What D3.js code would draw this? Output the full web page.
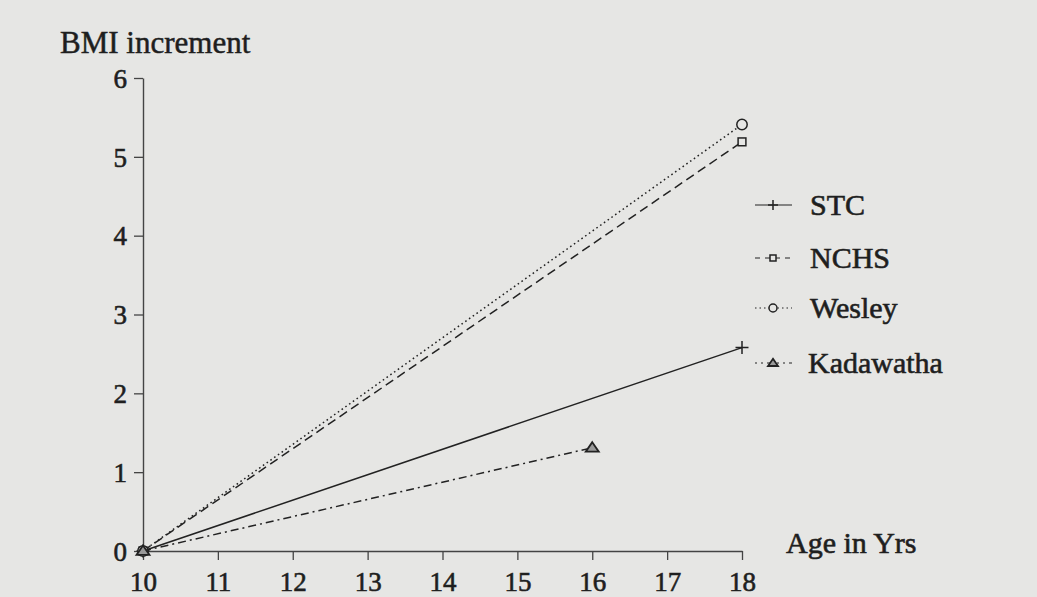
<!DOCTYPE html>
<html>
<head>
<meta charset="utf-8">
<script src="https://cdn.jsdelivr.net/npm/d3@7/dist/d3.min.js"></script>
<style>
  html, body { margin: 0; padding: 0; background: #e6e6e4; }
  svg { display: block; }
  text { font-family: "Liberation Serif", "Times New Roman", serif; fill: #1e1e1e; }
</style>
</head>
<body>
<svg id="chart" width="1037" height="597"></svg>
<script>
// Ages and BMI increments (relative to age 10)
const ages = [10, 18];
const stcValues = [0, 2.58];
const nchsValues = [0, 5.19];
const wesleyValues = [0, 5.41];
const kadawathaAges = [10, 16];
const kadawathaValues = [0, 1.31];

const seriesNames = ["STC", "NCHS", "Wesley", "Kadawatha"];
const xTickValues = [10, 11, 12, 13, 14, 15, 16, 17, 18];
const yTickValues = [0, 1, 2, 3, 4, 5, 6];
const yAxisTitle = "BMI increment";
const xAxisTitle = "Age in Yrs";

const ink = "#222222";
const paper = "#e6e6e4";
const svg = d3.select("#chart");

const x = d3.scaleLinear().domain([10, 18]).range([143, 742]);
const y = d3.scaleLinear().domain([0, 6]).range([551, 78]);

// Axes
const xAxis = svg.append("g")
  .attr("transform", `translate(0,${y(0)})`)
  .call(d3.axisBottom(x).tickValues(xTickValues).tickSize(9).tickPadding(12).tickSizeOuter(0).tickFormat(d3.format("d")));
const yAxis = svg.append("g")
  .attr("transform", `translate(${x(10)},0)`)
  .call(d3.axisLeft(y).tickValues(yTickValues).tickSize(9).tickPadding(7).tickSizeOuter(0).tickFormat(d3.format("d")));

[xAxis, yAxis].forEach(a => {
  a.select(".domain").attr("stroke", "#444").attr("stroke-width", 1.4);
  a.selectAll(".tick line").attr("stroke", "#444").attr("stroke-width", 1.3);
  a.selectAll(".tick text")
    .attr("font-size", 27)
    .attr("fill", ink)
    .attr("stroke", ink).attr("stroke-width", 0.6)
    .style("font-family", '"Liberation Serif", serif');
});
xAxis.selectAll(".tick text").attr("dy", "0.71em");
yAxis.selectAll(".tick text").attr("dy", "0.34em");

// Axis titles
svg.append("text").attr("x", 60).attr("y", 53)
  .attr("font-size", 31).attr("stroke", ink).attr("stroke-width", 0.5)
  .text(yAxisTitle);
svg.append("text").attr("x", 786).attr("y", 553)
  .attr("font-size", 30).attr("stroke", ink).attr("stroke-width", 0.6)
  .text(xAxisTitle);

// Series definitions
const series = [
  { name: seriesNames[0], xs: ages, ys: stcValues, dash: null, legendDash: null, marker: "plus" },
  { name: seriesNames[1], xs: ages, ys: nchsValues, dash: "9,5", legendDash: "5,5", marker: "square" },
  { name: seriesNames[2], xs: ages, ys: wesleyValues, dash: "1.6,3", legendDash: "1.5,3", marker: "circle" },
  { name: seriesNames[3], xs: kadawathaAges, ys: kadawathaValues, dash: "8,4,2,4", legendDash: "2,4,2,4,6,4", marker: "triangle" }
];

const line = d3.line().x(d => x(d[0])).y(d => y(d[1]));

function drawMarker(g, type, cx, cy, size) {
  if (type === "plus") {
    g.append("path")
      .attr("d", `M${cx - size},${cy}H${cx + size}M${cx},${cy - size}V${cy + size}`)
      .attr("stroke", ink).attr("stroke-width", 1.5).attr("fill", "none");
  } else if (type === "square") {
    const s = size * 0.6;
    g.append("rect").attr("x", cx - s).attr("y", cy - s).attr("width", 2 * s).attr("height", 2 * s)
      .attr("fill", paper).attr("stroke", ink).attr("stroke-width", 1.5);
  } else if (type === "circle") {
    g.append("circle").attr("cx", cx).attr("cy", cy).attr("r", size * 0.8)
      .attr("fill", paper).attr("stroke", ink).attr("stroke-width", 1.5);
  } else if (type === "triangle") {
    const s = size;
    g.append("path")
      .attr("d", `M${cx},${cy - s * 0.85}L${cx + s},${cy + s * 0.6}L${cx - s},${cy + s * 0.6}Z`)
      .attr("fill", "#9a9a9a").attr("stroke", ink).attr("stroke-width", 1.8);
  }
}

const plot = svg.append("g");
series.forEach(s => {
  const pts = s.xs.map((v, i) => [v, s.ys[i]]);
  plot.append("path").datum(pts)
    .attr("d", line)
    .attr("fill", "none")
    .attr("stroke", ink)
    .attr("stroke-width", 1.5)
    .attr("stroke-dasharray", s.dash);
  pts.forEach(p => drawMarker(plot, s.marker, x(p[0]), y(p[1]), 6.5));
});

// Legend
const legendYs = [205, 258, 308, 363];
const legend = svg.append("g");
series.forEach((s, i) => {
  const ly = legendYs[i];
  legend.append("line")
    .attr("x1", 755).attr("x2", 792).attr("y1", ly).attr("y2", ly)
    .attr("stroke", ink).attr("stroke-width", 1.2)
    .attr("stroke-dasharray", s.legendDash);
  drawMarker(legend, s.marker, 773, ly, 5);
  legend.append("text")
    .attr("x", s.marker === "triangle" ? 808 : 810)
    .attr("y", ly + 10)
    .attr("font-size", 30)
    .attr("stroke", ink).attr("stroke-width", 0.6)
    .text(s.name);
});
</script>
</body>
</html>
